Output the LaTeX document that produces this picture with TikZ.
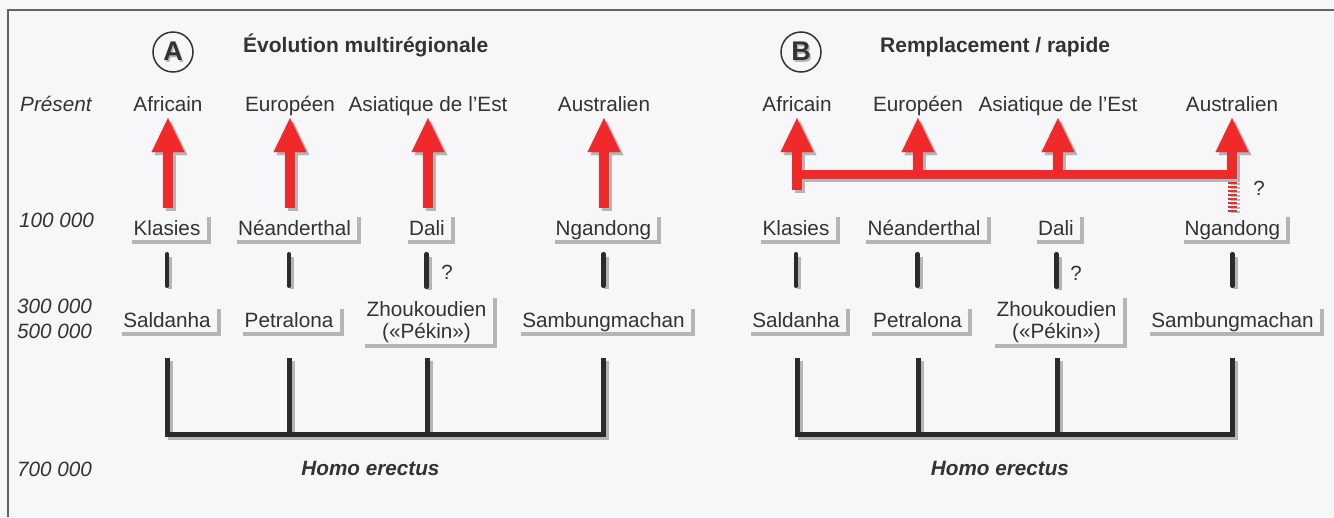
\documentclass[tikz,border=0pt]{standalone}
\usepackage{fontspec}
\setmainfont{Liberation Sans}
\usetikzlibrary{arrows.meta,calc}
\definecolor{txt}{HTML}{333333}
\definecolor{shd}{HTML}{B5B5B5}
\definecolor{rd}{HTML}{F02A2A}
\definecolor{bk}{HTML}{2B2B2B}
\definecolor{bg}{HTML}{F7F7F9}
\definecolor{frm}{HTML}{6A6066}
\begin{document}
\begin{tikzpicture}[x=1pt,y=-1pt,
  lbl/.style={font=\fontsize{20.7pt}{22pt}\selectfont, text=txt, inner xsep=8pt, inner ysep=0pt, text height=17pt, text depth=7pt, anchor=base},
  yr/.style={font=\fontsize{20.7pt}{22pt}\selectfont\itshape, text=txt, inner sep=0pt, anchor=base west},
  ttl/.style={font=\fontsize{21pt}{22pt}\selectfont\bfseries, text=txt, inner sep=0pt, anchor=base west},
  homo/.style={font=\fontsize{20.7pt}{22pt}\selectfont\bfseries\itshape, text=txt, inner sep=0pt, anchor=base},
  qm/.style={font=\fontsize{20.5pt}{22pt}\selectfont, text=txt, inner sep=0pt, anchor=base},
  circ/.style={circle, draw=txt, line width=1.5pt, minimum size=40pt, inner sep=0pt, font=\fontsize{27pt}{28pt}\selectfont\bfseries, text=txt},
  boxshadow/.style={draw=shd, line width=4pt},
  rtip/.style={-{Triangle[width=33pt,length=34pt,line width=0.01pt]}},
  rarrow/.style={draw=rd, line width=10pt, rtip},
  rarrowsh/.style={draw=shd, line width=10pt, rtip, transform canvas={shift={(3pt,-3pt)}}},
  rbar/.style={draw=rd, line width=9pt, line cap=rect},
  rbarsh/.style={draw=shd, line width=9pt, line cap=rect, transform canvas={shift={(3pt,-3pt)}}},
  hatch/.style={draw=rd, line width=9pt, dash pattern=on 1.6pt off 2.4pt},
  hatchsh/.style={draw=shd, line width=9pt, dash pattern=on 1.6pt off 2.4pt, transform canvas={shift={(3pt,-1pt)}}},
  sbar/.style={draw=bk, line width=4.5pt, line cap=round},
  sbarsh/.style={draw=shd, line width=4.5pt, transform canvas={shift={(3pt,-3pt)}}},
  bbar/.style={draw=bk, line width=5pt, line join=miter},
  bbarsh/.style={draw=shd, line width=5pt, line join=miter, transform canvas={shift={(3pt,-3pt)}}}
]
\fill[bg] (0,0) rectangle (1334,517);
\useasboundingbox (0,0) rectangle (1334,517);
\draw[frm, line width=1.5pt] (8,517) -- (8,10) -- (1334,10);

% ---------- titles ----------
\node[circ] (cA) at (173,52) {\rlap{\kern1.5pt\raisebox{-1.5pt}{\color{shd}A}}A};
\node[ttl] (tA) at (243,52) {Évolution multirégionale};
\node[circ] (cB) at (801,52) {\rlap{\kern1.5pt\raisebox{-1.5pt}{\color{shd}B}}B};
\node[ttl] (tB) at (880,52) {Remplacement / rapide};

% ---------- time scale ----------
\node[yr] (y0) at (20,111) {Présent};
\node[yr] (y1) at (19,227) {100 000};
\node[yr] (y3) at (17,313) {300 000};
\node[yr] (y5) at (17,338) {500 000};
\node[yr] (y7) at (17,476) {700 000};

% ---------- panel A labels ----------
\node[lbl] (afA) at (168,111) {Africain};
\node[lbl] (euA) at (290,111) {Européen};
\node[lbl] (asA) at (428,111) {Asiatique de l’Est};
\node[lbl] (auA) at (604,111) {Australien};
\node[lbl] (klA) at (167,235) {Klasies};
\node[lbl] (neA) at (294.5,235) {Néanderthal};
\node[lbl] (daA) at (427,235) {Dali};
\node[lbl] (ngA) at (603.5,235) {Ngandong};
\node[lbl] (saA) at (167,327) {Saldanha};
\node[lbl] (peA) at (289,327) {Petralona};
\node[lbl, text depth=30pt] (zhA) at (426.5,316) {\begin{tabular}[t]{@{}c@{}}Zhoukoudien\\(«Pékin»)\end{tabular}};
\node[lbl] (smA) at (603.5,327) {Sambungmachan};
\node[homo] (hA) at (370.5,475) {Homo erectus};
\node[qm] (qA) at (447,279) {?};

% ---------- panel B labels ----------
\node[lbl] (afB) at (797,111) {Africain};
\node[lbl] (euB) at (918,111) {Européen};
\node[lbl] (asB) at (1058,111) {Asiatique de l’Est};
\node[lbl] (auB) at (1232,111) {Australien};
\node[lbl] (klB) at (796,235) {Klasies};
\node[lbl] (neB) at (924,235) {Néanderthal};
\node[lbl] (daB) at (1056,235) {Dali};
\node[lbl] (ngB) at (1232.5,235) {Ngandong};
\node[lbl] (saB) at (796,327) {Saldanha};
\node[lbl] (peB) at (917.5,327) {Petralona};
\node[lbl, text depth=30pt] (zhB) at (1056.5,316) {\begin{tabular}[t]{@{}c@{}}Zhoukoudien\\(«Pékin»)\end{tabular}};
\node[lbl] (smB) at (1232.5,327) {Sambungmachan};
\node[homo] (hB) at (1000,475) {Homo erectus};
\node[qm] (qB1) at (1076,280) {?};
\node[qm] (qB2) at (1259,195) {?};

% ---------- label box shadows ----------
\foreach \n in {klA,neA,daA,ngA,saA,peA,zhA,smA,klB,neB,daB,ngB,saB,peB,zhB,smB}
  \draw[boxshadow] ([xshift=7pt]\n.south west) -- (\n.south east) -- ([yshift=1pt]\n.north east);

% ---------- short bars between fossil rows ----------
\foreach \a/\b/\e in {klA/saA/24,neA/peA/24,daA/zhA/12,ngA/smA/24,klB/saB/24,neB/peB/24,daB/zhB/12,ngB/smB/24}{
  \draw[sbarsh, shorten <=12pt, shorten >=\e pt] (\a.south -| \b) -- (\b.north);
  \draw[sbar, shorten <=12pt, shorten >=\e pt] (\a.south -| \b) -- (\b.north);
}

% ---------- panel A red arrows ----------
\coordinate (rA1) at (168,208);
\coordinate (rA2) at (290,208);
\coordinate (rA3) at (428,208);
\coordinate (rA4) at (604,208);
\foreach \a/\b in {rA1/afA,rA2/euA,rA3/asA,rA4/auA}{
  \draw[rarrowsh] (\a) -- (\b.south);
  \draw[rarrow] (\a) -- (\b.south);
}

% ---------- panel B red structure ----------
\coordinate (jB1) at (797,174);
\coordinate (jB2) at (918,174);
\coordinate (jB3) at (1058,174);
\coordinate (jB4) at (1232,174);
\coordinate (rB1) at (797,190);
\draw[hatchsh, shorten <=6pt, shorten >=6pt] (ngB.north -| jB4) -- (jB4);
\draw[rbarsh] (jB1) -- (jB4);
\draw[rarrowsh] (rB1) -- (afB.south);
\draw[rarrowsh] (jB2) -- (euB.south);
\draw[rarrowsh] (jB3) -- (asB.south);
\draw[rarrowsh] (jB4) -- (auB.south);
\draw[hatch, shorten <=6pt, shorten >=6pt] (ngB.north -| jB4) -- (jB4);
\draw[rbar] (jB1) -- (jB4);
\draw[rarrow] (rB1) -- (afB.south);
\draw[rarrow] (jB2) -- (euB.south);
\draw[rarrow] (jB3) -- (asB.south);
\draw[rarrow] (jB4) -- (auB.south);

% ---------- Homo erectus brackets ----------
\coordinate (tA1) at (167,358); \coordinate (bA1) at (167,434);
\coordinate (tA2) at (289,358); \coordinate (bA2) at (289,434);
\coordinate (tA3) at (427,358); \coordinate (bA3) at (427,434);
\coordinate (tA4) at (603,358); \coordinate (bA4) at (603,434);
\coordinate (tB1) at (797,358); \coordinate (bB1) at (797,434);
\coordinate (tB2) at (918,358); \coordinate (bB2) at (918,434);
\coordinate (tB3) at (1057,358); \coordinate (bB3) at (1057,434);
\coordinate (tB4) at (1232,358); \coordinate (bB4) at (1232,434);
\foreach \s in {bbarsh,bbar}{
  \draw[\s] (tA1) -- (bA1) -- (bA4) -- (tA4);
  \draw[\s] (tA2) -- (bA2);
  \draw[\s] (tA3) -- (bA3);
  \draw[\s] (tB1) -- (bB1) -- (bB4) -- (tB4);
  \draw[\s] (tB2) -- (bB2);
  \draw[\s] (tB3) -- (bB3);
}
\end{tikzpicture}
\end{document}
